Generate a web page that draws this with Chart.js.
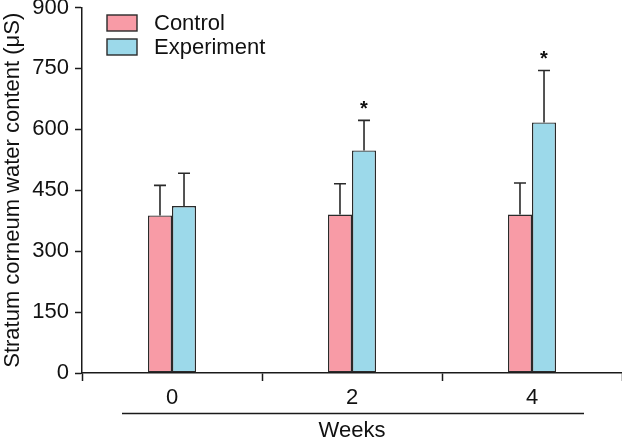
<!DOCTYPE html>
<html>
<head>
<meta charset="utf-8">
<script src="https://cdn.jsdelivr.net/npm/chart.js@4"></script>
<style>
  html, body { margin: 0; padding: 0; background: #fff; }
  #wrap { width: 622px; height: 440px; }
</style>
</head>
<body>
<div id="wrap"><canvas id="chart" width="622" height="440"></canvas></div>
<script>
// Datos
const weeks = ['0', '2', '4'];
const controlMean = [388, 390, 390];
const controlSd = [74, 76, 78];
const experimentMean = [411, 548, 617];
const experimentSd = [81, 74, 128];
const significance = ['', '*', '*'];
const yTickValues = [0, 150, 300, 450, 600, 750, 900];

const COLORS = {
    control: '#F89BA6',
    experiment: '#9CD9EA',
    edge: '#2a2a2a',
    axis: '#1a1a1a',
    text: '#111111',
};
const FONT = 'Liberation Sans, Arial, Helvetica, sans-serif';

const sdByDataset = [controlSd, experimentSd];

// Barras de error (solo hacia arriba), asteriscos, leyenda y línea de "Weeks"
const extrasPlugin = {
    id: 'extras',
    afterDatasetsDraw(chart) {
        const { ctx, scales: { y } } = chart;
        ctx.save();
        ctx.strokeStyle = COLORS.edge;
        ctx.lineWidth = 1.6;
        chart.data.datasets.forEach((ds, di) => {
            const meta = chart.getDatasetMeta(di);
            meta.data.forEach((bar, i) => {
                const top = y.getPixelForValue(ds.data[i] + sdByDataset[di][i]);
                ctx.beginPath();
                ctx.moveTo(bar.x, bar.y);
                ctx.lineTo(bar.x, top);
                ctx.moveTo(bar.x - 6, top);
                ctx.lineTo(bar.x + 6, top);
                ctx.stroke();
                if (di === 1 && significance[i]) {
                    ctx.fillStyle = COLORS.text;
                    ctx.font = 'bold 20px ' + FONT;
                    ctx.textAlign = 'center';
                    ctx.textBaseline = 'alphabetic';
                    ctx.fillText(significance[i], bar.x, top - 5);
                }
            });
        });
        ctx.restore();
    },
    afterDraw(chart) {
        const { ctx, chartArea } = chart;
        ctx.save();
        // leyenda
        ctx.font = '22px ' + FONT;
        ctx.textAlign = 'left';
        ctx.textBaseline = 'middle';
        chart.data.datasets.forEach((ds, i) => {
            const by = 15 + i * 24;
            ctx.fillStyle = ds.backgroundColor;
            ctx.fillRect(107, by, 30, 16);
            ctx.strokeStyle = COLORS.edge;
            ctx.lineWidth = 1.4;
            ctx.strokeRect(107, by, 30, 16);
            ctx.fillStyle = COLORS.text;
            ctx.fillText(ds.label, 154, by + 9);
        });
        // línea bajo las categorías
        ctx.strokeStyle = COLORS.axis;
        ctx.lineWidth = 1.4;
        ctx.beginPath();
        ctx.moveTo(chartArea.left + 40, 413.5);
        ctx.lineTo(chartArea.right - 38, 413.5);
        ctx.stroke();
        ctx.restore();
    }
};

new Chart(document.getElementById('chart'), {
    type: 'bar',
    data: {
        labels: weeks,
        datasets: [
            {
                label: 'Control',
                data: controlMean,
                backgroundColor: COLORS.control,
                borderColor: COLORS.edge,
                borderWidth: 1.4,
                borderSkipped: false,
                barPercentage: 1,
                categoryPercentage: 0.267,
            },
            {
                label: 'Experiment',
                data: experimentMean,
                backgroundColor: COLORS.experiment,
                borderColor: COLORS.edge,
                borderWidth: 1.4,
                borderSkipped: false,
                barPercentage: 1,
                categoryPercentage: 0.267,
            }
        ]
    },
    options: {
        responsive: false,
        animation: false,
        layout: { padding: { top: 0, left: 0, right: 0, bottom: 0 } },
        plugins: {
            legend: { display: false },
            tooltip: { enabled: false },
        },
        scales: {
            x: {
                grid: {
                    offset: true,
                    drawOnChartArea: false,
                    drawTicks: true,
                    tickLength: 8,
                    tickWidth: 1.5,
                    tickColor: COLORS.axis,
                },
                border: { color: COLORS.axis, width: 1.5 },
                ticks: { color: COLORS.text, font: { family: FONT, size: 22 }, padding: 4 },
                title: {
                    display: true,
                    text: 'Weeks',
                    color: COLORS.text,
                    font: { family: FONT, size: 22, lineHeight: 1 },
                    padding: { top: 0, bottom: -2 },
                },
                afterFit(scale) {
                    scale.height = 67;
                    scale.paddingLeft = 0;
                    scale.paddingRight = 0;
                }
            },
            y: {
                min: 0,
                max: 900,
                afterBuildTicks(scale) {
                    scale.ticks = yTickValues.map(v => ({ value: v }));
                },
                grid: {
                    drawOnChartArea: false,
                    drawTicks: true,
                    tickLength: 7,
                    tickWidth: 1.5,
                    tickColor: COLORS.axis,
                },
                border: { color: COLORS.axis, width: 1.5 },
                ticks: { color: COLORS.text, font: { family: FONT, size: 22 }, padding: 6 },
                title: {
                    display: true,
                    text: 'Stratum corneum water content (μS)',
                    color: COLORS.text,
                    font: { family: FONT, size: 22 },
                    padding: { top: 0, bottom: 0 },
                },
                afterFit(scale) {
                    scale.width = 82;
                    scale.paddingTop = 7.5;
                    scale.paddingBottom = 0;
                }
            }
        }
    },
    plugins: [extrasPlugin]
});
</script>
</body>
</html>
